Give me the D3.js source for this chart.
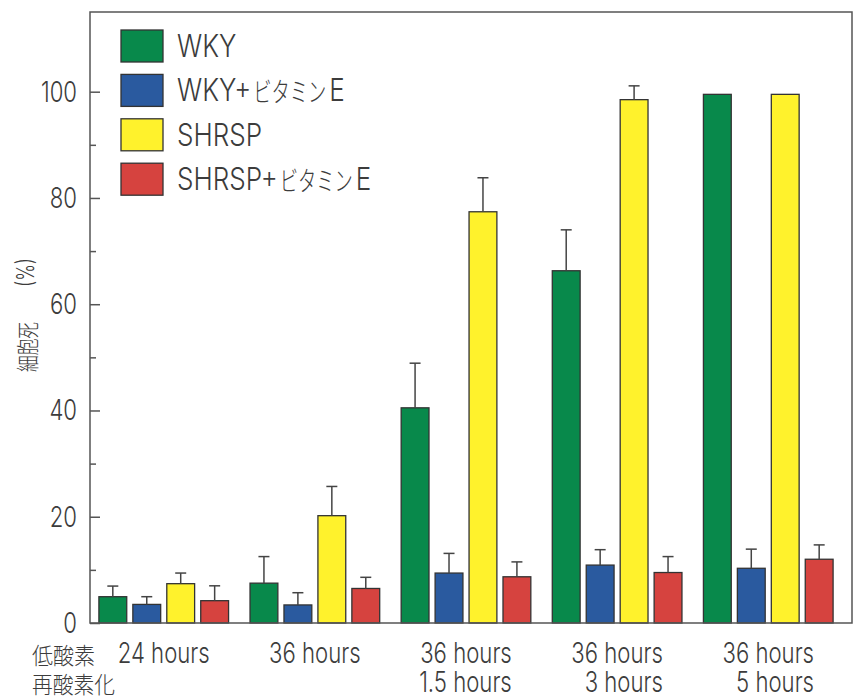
<!DOCTYPE html>
<html>
<head>
<meta charset="utf-8">
<script src="https://cdn.jsdelivr.net/npm/d3@7"></script>
<style>
  body { margin: 0; background: #fff; }
  text { font-family: Inter, "Liberation Sans", sans-serif; font-weight: 300; fill: #3c3c3c; }
  .cjk { font-family: "Noto Sans CJK JP", sans-serif; font-weight: 300; }
</style>
</head>
<body>
<div id="chart"></div>
<script>
// data
const hypoxia = ["24 hours", "36 hours", "36 hours", "36 hours", "36 hours"];
const reoxy = ["", "", "1.5 hours", "3 hours", "5 hours"];
const seriesNames = ["WKY", "WKY+ビタミンE", "SHRSP", "SHRSP+ビタミンE"];
const wky        = [4.95, 7.5, 40.5, 66.3, 99.5];
const wkyErr     = [2.0, 5.0, 8.4, 7.7, 0];
const wkyVitE    = [3.5, 3.4, 9.4, 10.9, 10.3];
const wkyVitEErr = [1.45, 2.3, 3.7, 2.9, 3.6];
const shrsp      = [7.4, 20.2, 77.4, 98.5, 99.5];
const shrspErr   = [2.0, 5.5, 6.4, 2.6, 0];
const shrspVitE    = [4.2, 6.5, 8.7, 9.5, 12.0];
const shrspVitEErr = [2.8, 2.1, 2.8, 3.0, 2.7];
const yTicks = [0, 20, 40, 60, 80, 100];
const yMinorTicks = [10, 30, 50, 70, 90];

const colors = ["#08894b", "#2a5a9f", "#fff22c", "#d6433f"];
const values = [wky, wkyVitE, shrsp, shrspVitE];
const errors = [wkyErr, wkyVitEErr, shrspErr, shrspVitEErr];

const width = 861, height = 697;
const plotLeft = 90, plotRight = 852, plotTop = 12, plotBottom = 623;

const svg = d3.select("#chart").append("svg")
    .attr("width", width)
    .attr("height", height);

// the original type is a very narrow face, so every text is squeezed
// sideways with textLength; the squeeze factor is measured once per style
const measure = (str, size, cls) => {
    const t = svg.append("text").attr("class", cls || null)
        .style("font-size", size + "px").text(str);
    const w = t.node().getComputedTextLength();
    t.remove();
    return w;
};
const sxAxis = 92 / measure("24 hours", 28);
const sxLeg = 85 / measure("SHRSP", 31);
const sxKana = 73 / measure("ビタミン", 27, "cjk");

// draws text squeezed by sx, anchored start/middle/end; returns its width
const squeezed = (parent, str, x, y, size, sx, anchor, cls) => {
    const w = measure(str, size, cls) * sx;
    let x0 = x;
    if (anchor === "middle") x0 = x - w / 2;
    if (anchor === "end") x0 = x - w;
    parent.append("text").attr("class", cls || null)
        .attr("x", x0).attr("y", y)
        .attr("textLength", w).attr("lengthAdjust", "spacingAndGlyphs")
        .style("font-size", size + "px")
        .text(str);
    return w;
};

const yscale = d3.scaleLinear().domain([0, 115]).range([plotBottom, plotTop]);

const groupIdx = d3.range(hypoxia.length);
const x0 = d3.scaleBand()
    .domain(groupIdx)
    .range([plotLeft, plotRight])
    .paddingInner(0.142)
    .paddingOuter(0.092)
    .align(0.32);

const x1 = d3.scaleBand()
    .domain(d3.range(seriesNames.length))
    .range([0, x0.bandwidth()])
    .paddingInner(0.18)
    .paddingOuter(0);

// bars
const rows = [];
groupIdx.forEach(g => {
    seriesNames.forEach((s, k) => {
        rows.push({ g: g, k: k, v: values[k][g], e: errors[k][g] });
    });
});

svg.append("g").selectAll("rect")
    .data(rows)
    .enter()
    .append("rect")
    .attr("x", d => x0(d.g) + x1(d.k))
    .attr("y", d => yscale(d.v))
    .attr("width", x1.bandwidth())
    .attr("height", d => yscale(0) - yscale(d.v))
    .attr("fill", d => colors[d.k])
    .attr("stroke", "#333")
    .attr("stroke-width", 1.3);

// error bars (upper only)
const errG = svg.append("g")
    .attr("stroke", "#444")
    .attr("stroke-width", 1.5);
rows.filter(d => d.e > 0).forEach(d => {
    const cx = x0(d.g) + x1(d.k) + x1.bandwidth() / 2;
    errG.append("line")
        .attr("x1", cx).attr("x2", cx)
        .attr("y1", yscale(d.v)).attr("y2", yscale(d.v + d.e));
    errG.append("line")
        .attr("x1", cx - 5.5).attr("x2", cx + 5.5)
        .attr("y1", yscale(d.v + d.e)).attr("y2", yscale(d.v + d.e));
});

// frame
svg.append("path")
    .attr("d", `M${plotLeft},${plotTop}H${plotRight}V${plotBottom}H${plotLeft}Z`)
    .attr("fill", "none")
    .attr("stroke", "#555")
    .attr("stroke-width", 1.5);

// y axis, ticks point inwards
const yaxisG = svg.append("g")
    .attr("transform", "translate(" + plotLeft + ",0)")
    .call(d3.axisRight(yscale).tickValues(yTicks).tickSize(10).tickFormat(""));
yaxisG.select(".domain").remove();
yaxisG.selectAll(".tick line").attr("stroke", "#555").attr("stroke-width", 1.5);

const yminorG = svg.append("g")
    .attr("transform", "translate(" + plotLeft + ",0)")
    .call(d3.axisRight(yscale).tickValues(yMinorTicks).tickSize(6).tickFormat(""));
yminorG.select(".domain").remove();
yminorG.selectAll(".tick line").attr("stroke", "#555").attr("stroke-width", 1.5);

const ylabG = svg.append("g");
yTicks.forEach(d => {
    squeezed(ylabG, String(d), 77, yscale(d) + 10, 28, sxAxis, "end");
});

// y title, reads bottom to top
const ytitle = svg.append("g").attr("transform", "translate(36,372) rotate(-90)");
ytitle.append("text").attr("class", "cjk")
    .attr("x", 0).attr("y", 0)
    .attr("textLength", 50).attr("lengthAdjust", "spacingAndGlyphs")
    .style("font-size", "23px")
    .text("細胞死");
ytitle.append("text")
    .attr("x", 85).attr("y", -2)
    .attr("textLength", 29).attr("lengthAdjust", "spacingAndGlyphs")
    .style("font-size", "24px")
    .text("(%)");

// x labels: hypoxia time centred, reoxygenation time right-aligned under it
const xl = svg.append("g");
groupIdx.forEach(g => {
    const cx = x0(g) + x0.bandwidth() / 2;
    const w = squeezed(xl, hypoxia[g], cx, 663, 28, sxAxis, "middle");
    if (reoxy[g]) {
        squeezed(xl, reoxy[g], cx + w / 2, 692, 28, sxAxis, "end");
    }
});
xl.append("text").attr("class", "cjk")
    .attr("x", 32).attr("y", 664)
    .attr("textLength", 63).attr("lengthAdjust", "spacingAndGlyphs")
    .style("font-size", "23px")
    .text("低酸素");
xl.append("text").attr("class", "cjk")
    .attr("x", 32).attr("y", 693)
    .attr("textLength", 83).attr("lengthAdjust", "spacingAndGlyphs")
    .style("font-size", "23px")
    .text("再酸素化");

// legend
const legend = svg.append("g").attr("transform", "translate(121,30)");
seriesNames.forEach((s, k) => {
    const row = legend.append("g").attr("transform", "translate(0," + k * 44.4 + ")");
    row.append("rect")
        .attr("width", 42).attr("height", 32)
        .attr("fill", colors[k])
        .attr("stroke", "#333").attr("stroke-width", 1.3);
    const m = s.match(/^([A-Z]+\+?)(ビタミン)?(E)?$/);
    let x = 56;
    x += squeezed(row, m[1], x, 27, 31, sxLeg, "start");
    if (m[2]) {
        x += 2;
        x += squeezed(row, m[2], x, 28, 27, sxKana, "start", "cjk");
        x += 3;
        squeezed(row, m[3], x, 27, 31, sxLeg, "start");
    }
});
</script>
</body>
</html>
